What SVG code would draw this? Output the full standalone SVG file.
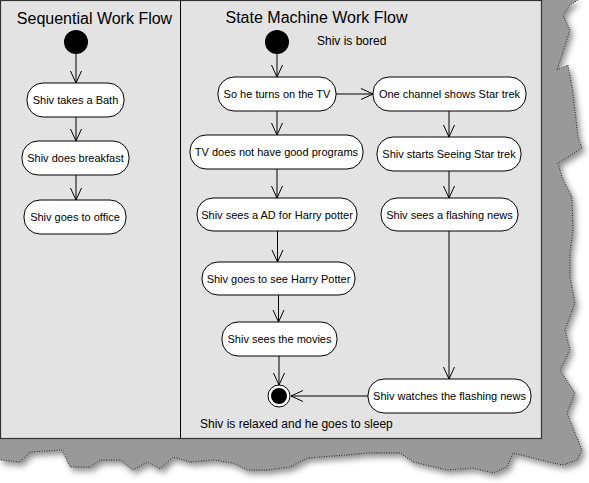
<svg xmlns="http://www.w3.org/2000/svg" width="589" height="483" viewBox="0 0 589 483">
<defs>
<style>
.node rect{fill:#fff;stroke:#000;stroke-width:1}
.node text{font-family:"Liberation Sans",Arial,sans-serif;font-size:11px;fill:#000;text-anchor:middle}
.lbl{font-family:"Liberation Sans",Arial,sans-serif;font-size:12px;fill:#000}
.title{font-family:"Liberation Sans",Arial,sans-serif;font-size:16px;fill:#000;text-anchor:middle}
.conn line{stroke:#000;stroke-width:1;marker-end:url(#arr)}
</style>
<marker id="arr" markerUnits="userSpaceOnUse" markerWidth="16" markerHeight="14" refX="13" refY="7" orient="auto">
<path d="M1,1.5 L13,7 L1,12.5" fill="none" stroke="#000" stroke-width="1"/>
</marker>
<filter id="sh" x="-10%" y="-10%" width="130%" height="130%">
<feDropShadow dx="3" dy="4" stdDeviation="3" flood-color="#000" flood-opacity="0.45"/>
</filter>
</defs>
<rect width="589" height="483" fill="#fff"/>
<g id="paper">
<path filter="url(#sh)" fill="#999" d="M0,0 L578,0 L570,5 L563,15 L570,30 L557,70 L568,65 L573,93 L578,137 L582,148 L558,163 L562,177 L572,197 L573,230 L570,253 L570,277 L575,303 L565,330 L570,350 L560,370 L575,393 L567,413 L575,433 L582,450 L577,460 L563,465 L553,463 L513,453 L507,467 L493,473 L473,468 L447,470 L413,462 L400,453 L367,453 L347,455 L307,458 L290,467 L267,470 L247,470 L233,463 L213,460 L190,462 L173,457 L160,469 L147,462 L133,470 L120,460 L100,460 L90,467 L70,467 L62,450 L30,452 L20,462 L0,460 Z"/>
<path fill="none" stroke="#000" stroke-width="0.8" stroke-dasharray="1,1.5" d="M578,0 L570,5 L563,15 L570,30 L557,70 L568,65 L573,93 L578,137 L582,148 L558,163 L562,177 L572,197 L573,230 L570,253 L570,277 L575,303 L565,330 L570,350 L560,370 L575,393 L567,413 L575,433 L582,450 L577,460 L563,465 L553,463 L513,453 L507,467 L493,473 L473,468 L447,470 L413,462 L400,453 L367,453 L347,455 L307,458 L290,467 L267,470 L247,470 L233,463 L213,460 L190,462 L173,457 L160,469 L147,462 L133,470 L120,460 L100,460 L90,467 L70,467 L62,450 L30,452 L20,462 L0,460"/>
<rect x="0.5" y="0.5" width="541" height="438" fill="#e3e3e3" stroke="#333" stroke-width="1.2"/>
<line x1="180.5" y1="0" x2="180.5" y2="438" stroke="#000" stroke-width="1"/>
</g>
<text class="title" x="94.5" y="24">Sequential Work Flow</text>
<text class="title" x="316.5" y="23">State Machine Work Flow</text>
<text class="lbl" x="317" y="45">Shiv is bored</text>
<text class="lbl" x="200" y="428">Shiv is relaxed and he goes to sleep</text>

<g id="connectors" class="conn">
<line x1="76" y1="54" x2="76" y2="83"/>
<line x1="76" y1="117" x2="76" y2="141"/>
<line x1="76" y1="175" x2="76" y2="200"/>
<line x1="277" y1="54" x2="277" y2="77"/>
<line x1="336" y1="94" x2="373" y2="94"/>
<line x1="277" y1="111" x2="277" y2="135"/>
<line x1="277" y1="169" x2="277" y2="198"/>
<line x1="277.5" y1="231" x2="277.5" y2="262"/>
<line x1="278.5" y1="295" x2="278.5" y2="322"/>
<line x1="279" y1="356" x2="279" y2="385"/>
<line x1="449" y1="111" x2="449" y2="137"/>
<line x1="449" y1="171" x2="449" y2="198"/>
<line x1="449" y1="231" x2="449" y2="379"/>
<line x1="368" y1="396" x2="291" y2="396"/>
</g>

<g id="start1"><circle cx="76" cy="42" r="12" fill="#000"/></g>
<g id="n_bath" class="node"><rect x="27" y="83" width="97" height="34" rx="16"/><text x="75.5" y="104">Shiv takes a Bath</text></g>
<g id="n_breakfast" class="node"><rect x="22" y="141" width="107" height="34" rx="16"/><text x="75.5" y="162">Shiv does breakfast</text></g>
<g id="n_office" class="node"><rect x="24" y="200" width="102" height="34" rx="16"/><text x="75" y="221">Shiv goes to office</text></g>

<g id="start2"><circle cx="277" cy="42" r="12" fill="#000"/></g>
<g id="n_tv" class="node"><rect x="218" y="77" width="118" height="34" rx="16"/><text x="277" y="98">So he turns on the TV</text></g>
<g id="n_channel" class="node"><rect x="373" y="77" width="153" height="34" rx="16"/><text x="449.5" y="98">One channel shows Star trek</text></g>
<g id="n_nogood" class="node"><rect x="190" y="135" width="173" height="34" rx="16"/><text x="276.5" y="156">TV does not have good programs</text></g>
<g id="n_startrek" class="node"><rect x="377" y="137" width="144" height="34" rx="16"/><text x="449" y="158">Shiv starts Seeing Star trek</text></g>
<g id="n_ad" class="node"><rect x="197" y="198" width="160" height="33" rx="16"/><text x="277" y="219">Shiv sees a AD for Harry potter</text></g>
<g id="n_flash" class="node"><rect x="381" y="198" width="137" height="33" rx="16"/><text x="449.5" y="219">Shiv sees a flashing news</text></g>
<g id="n_goes" class="node"><rect x="202" y="262" width="153" height="33" rx="16"/><text x="278.5" y="283">Shiv goes to see Harry Potter</text></g>
<g id="n_movies" class="node"><rect x="222" y="322" width="115" height="34" rx="16"/><text x="279.5" y="343">Shiv sees the movies</text></g>
<g id="n_watch" class="node"><rect x="368" y="379" width="163" height="34" rx="16"/><text x="449.5" y="400">Shiv watches the flashing news</text></g>
<g id="end"><circle cx="279" cy="396" r="11" fill="#fff" stroke="#000" stroke-width="1"/><circle cx="279" cy="396" r="8" fill="#000"/></g>
</svg>
